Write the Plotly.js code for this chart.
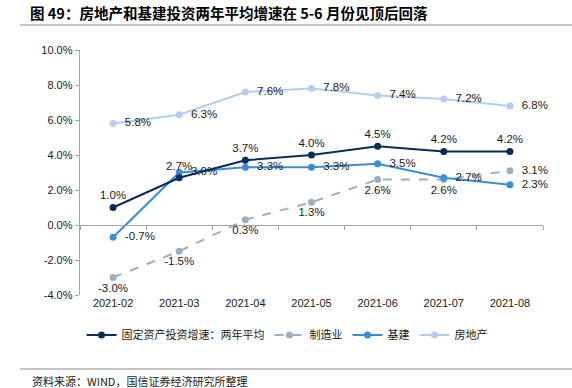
<!DOCTYPE html>
<html>
<head>
<meta charset="utf-8">
<script src="https://cdn.plot.ly/plotly-3.0.1.min.js"></script>
<style>html,body{margin:0;padding:0;background:#fff}#chart{width:572px;height:388px}</style>
</head>
<body>
<div id="chart"></div>
<script>
const categories = ['2021-02','2021-03','2021-04','2021-05','2021-06','2021-07','2021-08'];
const fixedAsset = [1.0, 2.7, 3.7, 4.0, 4.5, 4.2, 4.2];
const manufacturing = [-3.0, -1.5, 0.3, 1.3, 2.6, 2.6, 3.1];
const infrastructure = [-0.7, 3.0, 3.3, 3.3, 3.5, 2.7, 2.3];
const realEstate = [5.8, 6.3, 7.6, 7.8, 7.4, 7.2, 6.8];
const seriesNames = ['固定资产投资增速：两年平均', '制造业', '基建', '房地产'];
const yTickVals = [-4, -2, 0, 2, 4, 6, 8, 10];
const yTickText = yTickVals.map(v => v.toFixed(1) + '%');

const FONT = 'Liberation Sans, Arial, Noto Sans CJK SC, sans-serif';
const CJK = 'Noto Sans CJK SC, sans-serif';
const yMin = -4, yMax = 10;
const L = 80, R = 29, T = 50, B = 93, W = 572, H = 388;
const pw = W - L - R, ph = H - T - B;
const px = x => (x - L) / pw;
const py = y => (H - B - y) / ph;

function mk(name, y, color, pos, dash) {
  const right = p => p === 'middle right';
  return {
    type: 'scatter', mode: 'lines+markers+text', name: name,
    x: categories, y: y,
    line: {color: color, width: 2, dash: dash || 'solid'},
    marker: {color: color, size: 7},
    text: y.map((v, i) => (right(Array.isArray(pos) ? pos[i] : pos) ? '  ' : '') + v.toFixed(1) + '%'),
    texttemplate: '%{text}',
    textposition: pos,
    textfont: {family: FONT, size: 11.5, color: '#1a1a1a'},
    cliponaxis: false, hoverinfo: 'skip'
  };
}

const traces = [
  mk(seriesNames[3], realEstate, '#b5cdef', 'middle right'),
  mk(seriesNames[1], manufacturing, '#9cafc2', categories.map((c, i) => i === categories.length - 1 ? 'middle right' : 'bottom center'), 'dash'),
  mk(seriesNames[2], infrastructure, '#3a8dd4', 'middle right'),
  mk(seriesNames[0], fixedAsset, '#0b2b58', 'top center'),
  {type: 'scatter', mode: 'lines', x: categories, y: categories.map(() => null), xaxis: 'x2', showlegend: false, hoverinfo: 'skip'}
];
[3, 1, 2, 0].forEach((ti, k) => { traces[ti].legendrank = k + 1; });

const layout = {
  width: W, height: H,
  margin: {l: L, r: R, t: T, b: B},
  paper_bgcolor: '#fff', plot_bgcolor: '#fff',
  font: {family: FONT, size: 11, color: '#1a1a1a'},
  title: {
    text: '<b>图 49：房地产和基建投资两年平均增速在 5-6 月份见顶后回落</b>',
    font: {family: CJK, size: 14.5, color: '#000'},
    xref: 'container', yref: 'container', x: 30 / W, y: 1 - 14 / H, xanchor: 'left', yanchor: 'middle'
  },
  xaxis: {
    type: 'category', categoryarray: categories, range: [-0.5, categories.length - 0.5],
    showline: false, ticks: '', showgrid: false, zeroline: false,
    tickfont: {family: FONT, size: 11, color: '#1a1a1a'}
  },
  xaxis2: {
    type: 'category', categoryarray: categories, range: [-0.5, categories.length - 0.5],
    overlaying: 'x', anchor: 'free', position: (0 - yMin) / (yMax - yMin),
    showline: true, linecolor: '#a6a6a6', linewidth: 1.3,
    ticks: 'outside', ticklen: 4, tickcolor: '#a6a6a6', tickson: 'boundaries',
    showticklabels: false, showgrid: false, zeroline: false
  },
  yaxis: {
    range: [yMin, yMax], tickmode: 'array', tickvals: yTickVals, ticktext: yTickText,
    showline: true, linecolor: '#a6a6a6', linewidth: 1.3,
    ticks: 'outside', ticklen: 4, tickcolor: '#a6a6a6',
    showgrid: false, zeroline: false,
    tickfont: {family: FONT, size: 11, color: '#1a1a1a'}
  },
  showlegend: true,
  legend: {
    orientation: 'h', x: px(287), xanchor: 'center', y: py(335), yanchor: 'middle',
    font: {family: CJK, size: 11, color: '#1a1a1a'}, traceorder: 'normal',
    itemwidth: 30, bgcolor: 'rgba(0,0,0,0)'
  },
  shapes: [
    {type: 'line', xref: 'paper', yref: 'paper', x0: px(20), x1: px(572), y0: py(25), y1: py(25), line: {color: '#8c8c8c', width: 1}},
    {type: 'line', xref: 'paper', yref: 'paper', x0: px(20), x1: px(572), y0: py(369), y1: py(369), line: {color: '#8c8c8c', width: 1}}
  ],
  annotations: [
    {text: '资料来源：WIND，国信证券经济研究所整理', xref: 'paper', yref: 'paper', x: px(30), y: py(381),
     xanchor: 'left', yanchor: 'middle', showarrow: false, font: {family: CJK, size: 11, color: '#1a1a1a'}}
  ]
};

Plotly.newPlot('chart', traces, layout, {displayModeBar: false, staticPlot: true});
</script>
</body>
</html>
